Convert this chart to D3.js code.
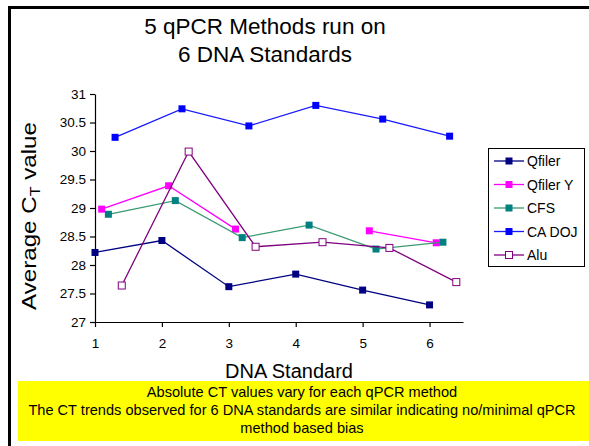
<!DOCTYPE html>
<html>
<head>
<meta charset="utf-8">
<script src="https://cdn.jsdelivr.net/npm/d3@7"></script>
<style>
  body { margin: 0; background: #fff; }
  svg { font-family: "Liberation Sans", Arial, sans-serif; }
</style>
</head>
<body>
<div id="chart"></div>
<script>
var W = 589, H = 446;

// data
var standards = [1, 2, 3, 4, 5, 6];
var qfiler  = [28.22, 28.43, 27.62, 27.84, 27.56, 27.30];
var qfilerY = [28.98, 29.39, 28.63, null, 28.60, 28.39];
var cfs     = [28.89, 29.13, 28.48, 28.70, 28.28, 28.40];
var caDoj   = [30.24, 30.74, 30.44, 30.80, 30.56, 30.26];
var alu     = [27.64, 29.99, 28.32, 28.40, 28.30, 27.70];
var yTicks  = [27, 27.5, 28, 28.5, 29, 29.5, 30, 30.5, 31];

var series = [
  {name: 'Qfiler',   values: qfiler,  off: 0.0, line: '#000080', fill: '#000080', stroke: '#000080'},
  {name: 'Qfiler Y', values: qfilerY, off: 0.1, line: '#ff00ff', fill: '#ff00ff', stroke: '#ff00ff'},
  {name: 'CFS',      values: cfs,     off: 0.2, line: '#3a9a72', fill: '#008080', stroke: '#008080'},
  {name: 'CA DOJ',   values: caDoj,   off: 0.3, line: '#1a1aff', fill: '#0000ff', stroke: '#0000ff'},
  {name: 'Alu',      values: alu,     off: 0.4, line: '#800080', fill: '#ffffff', stroke: '#800080'}
];

var svg = d3.select('#chart').append('svg')
  .attr('width', W).attr('height', H);

// frame
svg.append('path')
  .attr('d', 'M9.5,' + H + 'V7.5H' + W)
  .attr('fill', 'none').attr('stroke', '#000').attr('stroke-width', 3);

// title
var title = svg.append('text')
  .attr('x', 265).attr('y', 34)
  .attr('text-anchor', 'middle')
  .style('font-size', '22.5px');
title.append('tspan').attr('x', 265).text('5 qPCR Methods run on');
title.append('tspan').attr('x', 265).attr('dy', 28).text('6 DNA Standards');

var x = d3.scaleLinear().domain([1, 6.5]).range([95, 463]);
var y = d3.scaleLinear().domain([27, 31]).range([322, 94]);

var xAxis = svg.append('g')
  .attr('transform', 'translate(0,322)')
  .call(d3.axisBottom(x).tickValues(standards).tickSize(5).tickSizeOuter(0).tickFormat(d3.format('d')));
var yAxis = svg.append('g')
  .attr('transform', 'translate(95,0)')
  .call(d3.axisLeft(y).tickValues(yTicks).tickSize(5).tickSizeOuter(0).tickFormat(d3.format('')));

[xAxis, yAxis].forEach(function(g) {
  g.selectAll('path, line').attr('stroke', '#000').attr('stroke-width', 1.2);
  g.selectAll('text').attr('fill', '#000').style('font-size', '13.5px')
    .style('font-family', '"Liberation Sans", Arial, sans-serif');
});
xAxis.selectAll('text').attr('dy', '1.3em');
yAxis.selectAll('text').attr('x', -9);

// axis titles
var yl = svg.append('text')
  .attr('transform', 'translate(36,216) rotate(-90) scale(1.15,1)')
  .attr('text-anchor', 'middle')
  .style('font-size', '21px');
yl.append('tspan').text('Average C');
yl.append('tspan').attr('dy', 4).style('font-size', '14px').text('T');
yl.append('tspan').attr('dy', -4).text(' value');

svg.append('text')
  .attr('x', 289).attr('y', 378)
  .attr('text-anchor', 'middle')
  .style('font-size', '20px')
  .text('DNA Standard');

// lines and markers
var line = d3.line()
  .defined(function(d) { return d.v != null; })
  .x(function(d) { return x(d.s); })
  .y(function(d) { return y(d.v); });

series.forEach(function(s) {
  var pts = s.values.map(function(v, i) { return {s: standards[i] + s.off, v: v}; });
  svg.append('path')
    .datum(pts)
    .attr('fill', 'none')
    .attr('stroke', s.line)
    .attr('stroke-width', 1.3)
    .attr('d', line);
  svg.selectAll(null)
    .data(pts.filter(function(d) { return d.v != null; }))
    .enter().append('rect')
      .attr('x', function(d) { return x(d.s) - 3.5; })
      .attr('y', function(d) { return y(d.v) - 3.5; })
      .attr('width', 7).attr('height', 7)
      .attr('fill', s.fill)
      .attr('stroke', s.stroke)
      .attr('stroke-width', s.fill == '#ffffff' ? 1 : 0);
});

// legend
var lg = svg.append('g');
lg.append('rect')
  .attr('x', 488.5).attr('y', 148.5).attr('width', 96).attr('height', 118)
  .attr('fill', '#fff').attr('stroke', '#000').attr('stroke-width', 1);
series.forEach(function(s, i) {
  var ly = 161 + i * 23.5;
  lg.append('line')
    .attr('x1', 494).attr('x2', 524).attr('y1', ly).attr('y2', ly)
    .attr('stroke', s.line).attr('stroke-width', 1.3);
  lg.append('rect')
    .attr('x', 505.5).attr('y', ly - 3.5).attr('width', 7).attr('height', 7)
    .attr('fill', s.fill).attr('stroke', s.stroke)
    .attr('stroke-width', s.fill == '#ffffff' ? 1 : 0);
  lg.append('text')
    .attr('x', 527).attr('y', ly + 5)
    .style('font-size', '14px')
    .text(s.name);
});

// yellow note box
svg.append('rect')
  .attr('x', 18).attr('y', 381).attr('width', W - 18).attr('height', 60)
  .attr('fill', '#ffff00');
var notes = [
  'Absolute CT values vary for each qPCR method',
  'The CT trends observed for 6 DNA standards are similar indicating no/minimal qPCR',
  'method based bias'
];
svg.selectAll('.note')
  .data(notes)
  .enter().append('text')
    .attr('class', 'note')
    .attr('x', 302)
    .attr('y', function(d, i) { return 397 + i * 18; })
    .attr('text-anchor', 'middle')
    .style('font-size', '14.6px')
    .text(function(d) { return d; });
</script>
</body>
</html>
